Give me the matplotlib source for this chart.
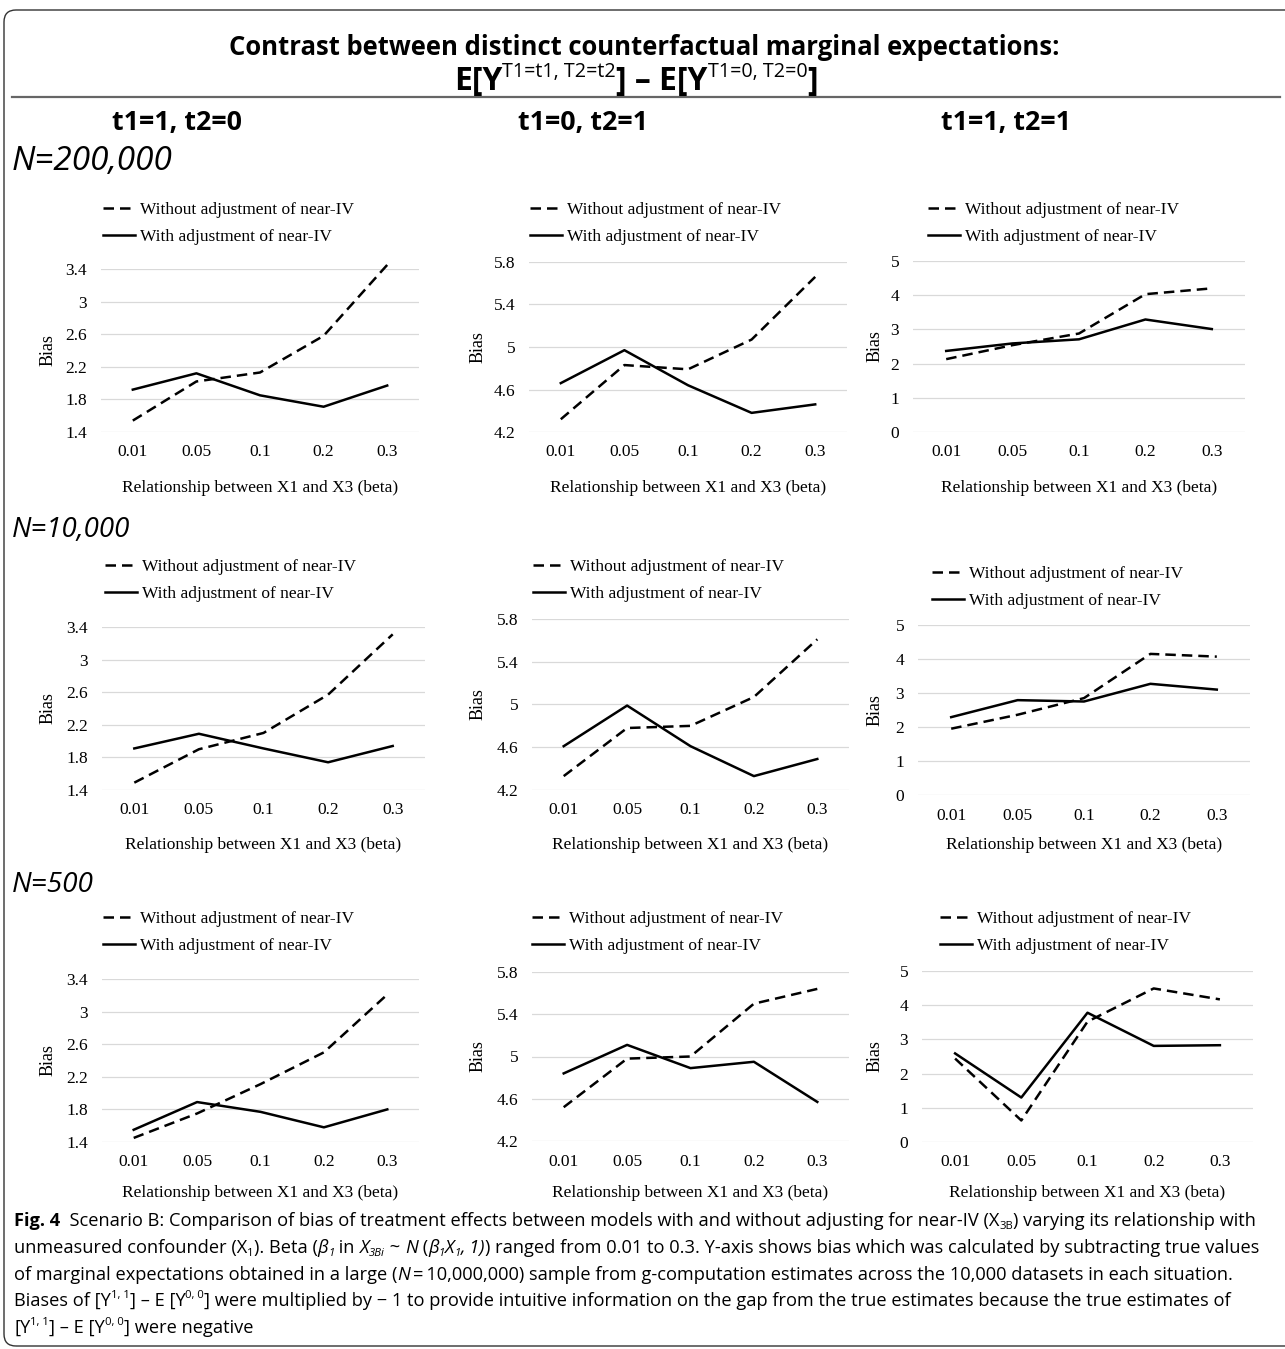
import matplotlib
matplotlib.use('Agg')
import matplotlib.pyplot as plt
from matplotlib import font_manager as fm
from matplotlib.font_manager import FontProperties
from matplotlib.patches import FancyBboxPatch
from matplotlib.lines import Line2D
from matplotlib.transforms import IdentityTransform

# ---------------- data ----------------
betas = ['0.01', '0.05', '0.1', '0.2', '0.3']
row_labels = ['N=200,000', 'N=10,000', 'N=500']
col_labels = ['t1=1, t2=0', 't1=0, t2=1', 't1=1, t2=1']
series_names = ['Without adjustment of near-IV', 'With adjustment of near-IV']
x_title = 'Relationship between X1 and X3 (beta)'
y_title = 'Bias'

ticks_t10 = [1.4, 1.8, 2.2, 2.6, 3.0, 3.4]
ticks_t01 = [4.2, 4.6, 5.0, 5.4, 5.8]
ticks_t11 = [0, 1, 2, 3, 4, 5]

# N=200,000
n200k_t10_without = [1.54, 2.02, 2.13, 2.58, 3.45]
n200k_t10_with = [1.92, 2.12, 1.85, 1.71, 1.97]
n200k_t01_without = [4.32, 4.83, 4.79, 5.07, 5.66]
n200k_t01_with = [4.66, 4.97, 4.64, 4.38, 4.46]
n200k_t11_without = [2.13, 2.54, 2.88, 4.03, 4.20]
n200k_t11_with = [2.37, 2.59, 2.71, 3.29, 3.01]
# N=10,000
n10k_t10_without = [1.49, 1.90, 2.10, 2.57, 3.31]
n10k_t10_with = [1.91, 2.09, 1.91, 1.74, 1.94]
n10k_t01_without = [4.33, 4.78, 4.80, 5.07, 5.61]
n10k_t01_with = [4.61, 4.99, 4.61, 4.33, 4.49]
n10k_t11_without = [1.95, 2.36, 2.85, 4.15, 4.07]
n10k_t11_with = [2.29, 2.79, 2.75, 3.27, 3.10]
# N=500
n500_t10_without = [1.45, 1.75, 2.11, 2.50, 3.21]
n500_t10_with = [1.55, 1.89, 1.77, 1.58, 1.80]
n500_t01_without = [4.52, 4.98, 5.00, 5.50, 5.64]
n500_t01_with = [4.84, 5.11, 4.89, 4.95, 4.57]
n500_t11_without = [2.44, 0.63, 3.52, 4.49, 4.17]
n500_t11_with = [2.59, 1.30, 3.78, 2.81, 2.83]

panels = [
    [(n200k_t10_without, n200k_t10_with, ticks_t10),
     (n200k_t01_without, n200k_t01_with, ticks_t01),
     (n200k_t11_without, n200k_t11_with, ticks_t11)],
    [(n10k_t10_without, n10k_t10_with, ticks_t10),
     (n10k_t01_without, n10k_t01_with, ticks_t01),
     (n10k_t11_without, n10k_t11_with, ticks_t11)],
    [(n500_t10_without, n500_t10_with, ticks_t10),
     (n500_t01_without, n500_t01_with, ticks_t01),
     (n500_t11_without, n500_t11_with, ticks_t11)],
]

# ---------------- layout (pixels) ----------------
W, H, DPI = 1285, 1349, 100
axes_px = [
    [(101, 269, 419, 432), (529, 262, 847, 432), (913, 261, 1245, 432)],
    [(102, 627, 425, 790), (532, 619, 849, 790), (918, 625, 1250, 795)],
    [(102, 979, 419, 1142), (532, 972, 849, 1141), (922, 971, 1253, 1142)],
]
legend_px = [
    [(103, 208), (530, 208), (928, 208)],
    [(105, 565), (533, 565), (932, 572)],
    [(103, 917), (532, 917), (940, 917)],
]
ylabel_right_px = [57, 487, 884]
xlabel_top_px = [480, 837, 1185]
row_label_px = [(12, 170), (12, 537), (12, 892)]
col_center_px = [177, 583, 1006]

names = {f.name for f in fm.fontManager.ttflist}
SANS = 'Open Sans' if 'Open Sans' in names else 'DejaVu Sans'
SERIF = 'Liberation Serif' if 'Liberation Serif' in names else 'DejaVu Serif'
FS = 12.5

fig = plt.figure(figsize=(W / DPI, H / DPI), dpi=DPI)
fig.patch.set_facecolor('white')
renderer = fig.canvas.get_renderer()


def adv(s, fp):
    w1 = renderer.get_text_width_height_descent('x' + s + 'x', fp, ismath=False)[0]
    w0 = renderer.get_text_width_height_descent('xx', fp, ismath=False)[0]
    return w1 - w0


def layout(segs, sz, family):
    items, cx = [], 0.0
    for s, o in segs:
        scr = o.get('script')
        fs = sz * 0.62 if scr else sz
        fp = FontProperties(family=o.get('family', family),
                            weight=o.get('weight', 'normal'),
                            style=o.get('style', 'normal'), size=fs)
        dy = 0.0
        if scr == 'sup':
            dy = sz * 0.42 * DPI / 72
        elif scr == 'sub':
            dy = -sz * 0.16 * DPI / 72
        items.append((s, fp, cx, dy))
        cx += adv(s, fp)
    return items, cx


def fit_size(segs, size, family, width):
    _, tot = layout(segs, size, family)
    return size * width / tot


def rich(segs, x, y, size, family, width=None, ha='left'):
    if width:
        size = fit_size(segs, size, family, width)
    items, tot = layout(segs, size, family)
    x0 = x - tot / 2 if ha == 'center' else x
    for s, fp, cx, dy in items:
        fig.text((x0 + cx) / W, 1 - (y - dy) / H, s, fontproperties=fp,
                 va='baseline', ha='left', color='black')
    return size


# border
frame = FancyBboxPatch((4, H - 1346), 1320, 1336,
                       boxstyle='round,pad=0,rounding_size=12',
                       transform=IdentityTransform(), facecolor='none',
                       edgecolor='#333333', linewidth=1.0)
fig.add_artist(frame)

# title
B = {'weight': 'bold'}
rich([('Contrast between distinct counterfactual marginal expectations:', B)],
     644, 55, 22, SANS, width=825, ha='center')
rich([('E[Y', B), ('T1=t1, T2=t2', dict(script='sup')), ('] \u2013 E[Y', B),
      ('T1=0, T2=0', dict(script='sup')), (']', B)],
     636, 90, 20, SANS, width=365, ha='center')
fig.add_artist(Line2D([12, 1280], [H - 97, H - 97], transform=IdentityTransform(),
                      color='#666666', linewidth=1.6))

for c, lab in enumerate(col_labels):
    rich([(lab, B)], col_center_px[c], 130, 20, SANS, width=130, ha='center')
for r, lab in enumerate(row_labels):
    x, y = row_label_px[r]
    rich([(lab, {'style': 'italic'})], x, y, 20, SANS, width=[160, 118, 82][r])

# panels
xs = list(range(len(betas)))
for r in range(3):
    for c in range(3):
        wo, wi, ticks = panels[r][c]
        l, t, rr, b = axes_px[r][c]
        ax = fig.add_axes([l / W, 1 - b / H, (rr - l) / W, (b - t) / H])
        h1, = ax.plot(xs, wo, color='black', lw=1.8, linestyle=(0, (4.2, 2.4)),
                      clip_on=False, label=series_names[0])
        h2, = ax.plot(xs, wi, color='black', lw=1.8, clip_on=False,
                      label=series_names[1])
        ax.set_xlim(-0.5, len(betas) - 0.5)
        ax.set_ylim(ticks[0], ticks[-1])
        ax.set_yticks(ticks)
        ax.set_yticklabels([f'{v:g}' for v in ticks], fontfamily=SERIF, fontsize=FS)
        ax.set_xticks(xs)
        ax.set_xticklabels(betas, fontfamily=SERIF, fontsize=FS)
        ax.tick_params(axis='y', length=0, pad=10)
        ax.tick_params(axis='x', length=0, pad=9)
        for s in ax.spines.values():
            s.set_visible(False)
        ax.yaxis.grid(True, color='#d9d9d9', linewidth=0.9)
        ax.set_axisbelow(True)
        ax.patch.set_alpha(0)
        ax.set_ylabel(y_title, fontfamily=SERIF, fontsize=FS + 0.5)
        ax.yaxis.set_label_coords((ylabel_right_px[c] - l) / (rr - l), 0.5)
        ax.set_xlabel(x_title, fontfamily=SERIF, fontsize=FS)
        ax.xaxis.set_label_coords(0.5, (b - xlabel_top_px[r]) / (b - t))
        lx, ly = legend_px[r][c]
        ax.legend(handles=[h1, h2], loc='upper left',
                  bbox_to_anchor=(lx / W, 1 - (ly - 6) / H),
                  bbox_transform=fig.transFigure, frameon=False,
                  borderpad=0, borderaxespad=0, handlelength=1.85,
                  handletextpad=0.3, labelspacing=0.6,
                  prop=FontProperties(family=SERIF, size=FS))

# caption
R = {}
I = {'style': 'italic'}
cap_lines = [
    [('Fig. 4', B), ('  Scenario B: Comparison of bias of treatment effects between models with and without adjusting for near-IV (X', R),
     ('3B', dict(script='sub')), (') varying its relationship with', R)],
    [('unmeasured confounder (X', R), ('1', dict(script='sub')), ('). Beta (', R), ('\u03b2', I), ('1', dict(I, script='sub')),
     (' in ', R), ('X', I), ('3Bi', dict(I, script='sub')), (' ~ ', R), ('N', I), (' (', R), ('\u03b2', I),
     ('1', dict(I, script='sub')), ('X', I), ('1', dict(I, script='sub')), (', 1)', I),
     (') ranged from 0.01 to 0.3. Y-axis shows bias which was calculated by subtracting true values', R)],
    [('of marginal expectations obtained in a large (', R), ('N', I),
     ('\u2009=\u200910,000,000) sample from g-computation estimates across the 10,000 datasets in each situation.', R)],
    [('Biases of [Y', R), ('1, 1', dict(script='sup')), ('] \u2013 E [Y', R), ('0, 0', dict(script='sup')),
     ('] were multiplied by \u2212 1 to provide intuitive information on the gap from the true estimates because the true estimates of', R)],
    [('[Y', R), ('1, 1', dict(script='sup')), ('] \u2013 E [Y', R), ('0, 0', dict(script='sup')), ('] were negative', R)],
]
cap_base = [1226, 1253, 1280, 1306, 1333]
cap_left = 14
cs = min(fit_size(cap_lines[i], 13, SANS, 1240) for i in range(4))
for i in range(5):
    rich(cap_lines[i], cap_left, cap_base[i], cs, SANS)

fig.savefig('out.png', dpi=DPI, facecolor='white')
